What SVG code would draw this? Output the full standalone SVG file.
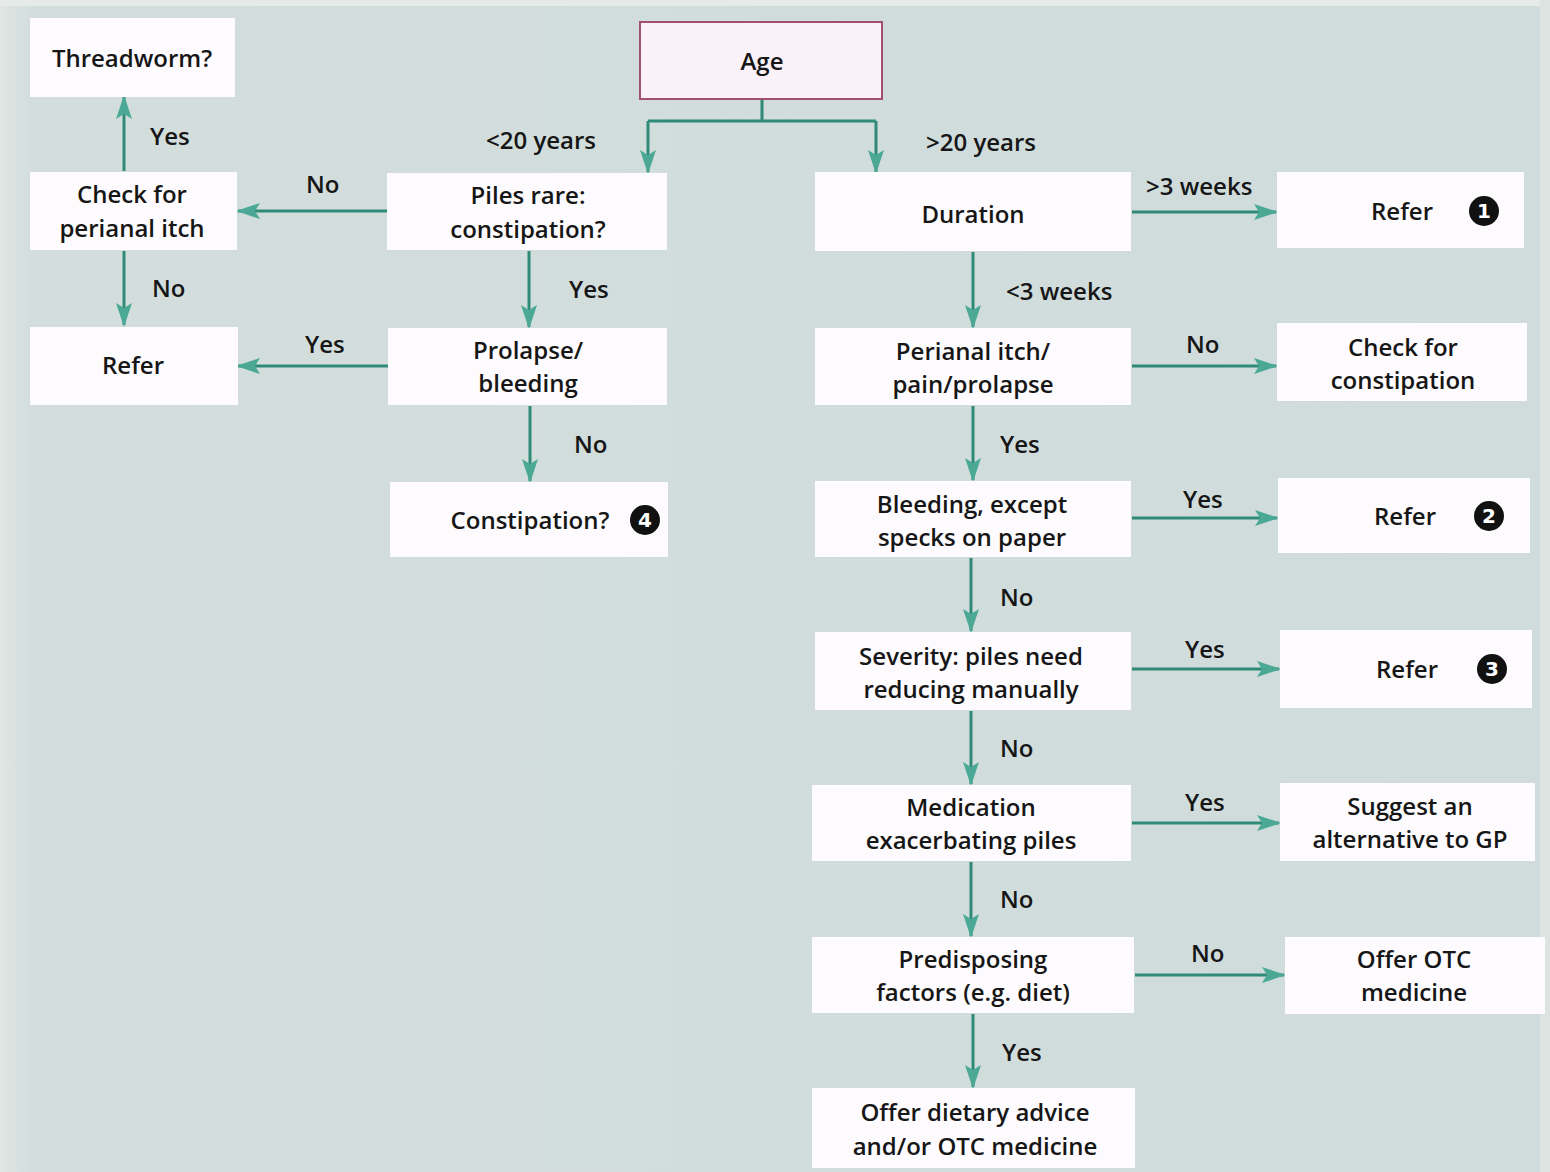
<svg xmlns="http://www.w3.org/2000/svg" width="1550" height="1172" viewBox="0 0 1550 1172">
<defs>
<linearGradient id="bg" x1="0" y1="0" x2="1" y2="0">
<stop offset="0" stop-color="#dfe6e4"/>
<stop offset="0.02" stop-color="#d3dedc"/>
<stop offset="1" stop-color="#cfdcdb"/>
</linearGradient>
<marker id="ah" markerUnits="userSpaceOnUse" markerWidth="24" markerHeight="20" viewBox="0 0 24 20" refX="22" refY="10" orient="auto">
<path d="M0,2 L24,10 L0,18 L5,10 Z" fill="#4aa894"/>
</marker>
<style>
.n{fill:#fdfbfd}
.t{font-family:"Open Sans","Noto Sans","DejaVu Sans",sans-serif;font-size:24px;font-weight:600;fill:#161616;text-anchor:middle}
.l{font-family:"Open Sans","Noto Sans","DejaVu Sans",sans-serif;font-size:24px;font-weight:600;fill:#161616}
.c{fill:none;stroke:#2f8a78;stroke-width:3}
.a{marker-end:url(#ah)}
.bd{fill:#111}
.bn{font-family:"DejaVu Sans",sans-serif;font-size:20px;font-weight:bold;fill:#fff;text-anchor:middle}
</style>
</defs>
<rect width="1550" height="1172" fill="url(#bg)"/>
<rect x="0" y="0" width="1550" height="6" fill="#e6ebe9"/>
<rect x="1540" y="0" width="10" height="1172" fill="#dde3e1"/>

<g id="connectors">
<path class="c" d="M762,99 V121 M648,121 H876"/>
<path class="c a" d="M648,121 V172"/>
<path class="c a" d="M876,121 V172"/>
<path class="c a" d="M387,211 H238"/>
<path class="c a" d="M124,171 V97"/>
<path class="c a" d="M124,251 V325"/>
<path class="c a" d="M529,251 V327"/>
<path class="c a" d="M388,366 H238"/>
<path class="c a" d="M530,406 V481"/>
<path class="c a" d="M1132,212 H1276"/>
<path class="c a" d="M973,252 V327"/>
<path class="c a" d="M1132,366 H1276"/>
<path class="c a" d="M973,406 V480"/>
<path class="c a" d="M1132,518 H1277"/>
<path class="c a" d="M971,558 V631"/>
<path class="c a" d="M1132,669 H1279"/>
<path class="c a" d="M971,711 V784"/>
<path class="c a" d="M1132,823 H1279"/>
<path class="c a" d="M971,862 V936"/>
<path class="c a" d="M1135,975 H1284"/>
<path class="c a" d="M973,1014 V1087"/>
<text class="l" x="486" y="149">&lt;20 years</text>
<text class="l" x="926" y="151">&gt;20 years</text>
<text class="l" x="306" y="193">No</text>
<text class="l" x="150" y="145">Yes</text>
<text class="l" x="152" y="297">No</text>
<text class="l" x="569" y="298">Yes</text>
<text class="l" x="305" y="353">Yes</text>
<text class="l" x="574" y="453">No</text>
<text class="l" x="1146" y="195">&gt;3 weeks</text>
<text class="l" x="1006" y="300">&lt;3 weeks</text>
<text class="l" x="1186" y="353">No</text>
<text class="l" x="1000" y="453">Yes</text>
<text class="l" x="1183" y="508">Yes</text>
<text class="l" x="1000" y="606">No</text>
<text class="l" x="1185" y="658">Yes</text>
<text class="l" x="1000" y="757">No</text>
<text class="l" x="1185" y="811">Yes</text>
<text class="l" x="1000" y="908">No</text>
<text class="l" x="1191" y="962">No</text>
<text class="l" x="1002" y="1061">Yes</text>
</g>

<g id="age">
<rect x="640" y="22" width="242" height="77" fill="#fbf1f8" stroke="#a3506e" stroke-width="2"/>
<text class="t" x="762" y="70">Age</text>
</g>
<g id="threadworm">
<rect class="n" x="30" y="18" width="205" height="79"/>
<text class="t" x="132" y="67">Threadworm?</text>
</g>
<g id="check-perianal">
<rect class="n" x="30" y="172" width="207" height="78"/>
<text class="t" x="132" y="203">Check for</text>
<text class="t" x="132" y="237">perianal itch</text>
</g>
<g id="refer-left">
<rect class="n" x="30" y="327" width="208" height="78"/>
<text class="t" x="133" y="374">Refer</text>
</g>
<g id="piles-rare">
<rect class="n" x="387" y="173" width="280" height="77"/>
<text class="t" x="528" y="204">Piles rare:</text>
<text class="t" x="528" y="238">constipation?</text>
</g>
<g id="prolapse">
<rect class="n" x="388" y="328" width="279" height="77"/>
<text class="t" x="528" y="359">Prolapse/</text>
<text class="t" x="528" y="392">bleeding</text>
</g>
<g id="constipation">
<rect class="n" x="390" y="482" width="278" height="75"/>
<text class="t" x="530" y="529">Constipation?</text>
<circle class="bd" cx="645" cy="520" r="15"/>
<text class="bn" x="645" y="527">4</text>
</g>
<g id="duration">
<rect class="n" x="815" y="172" width="316" height="79"/>
<text class="t" x="973" y="223">Duration</text>
</g>
<g id="perianal-itch">
<rect class="n" x="815" y="328" width="316" height="77"/>
<text class="t" x="973" y="360">Perianal itch/</text>
<text class="t" x="973" y="393">pain/prolapse</text>
</g>
<g id="bleeding">
<rect class="n" x="815" y="481" width="316" height="76"/>
<text class="t" x="972" y="513">Bleeding, except</text>
<text class="t" x="972" y="546">specks on paper</text>
</g>
<g id="severity">
<rect class="n" x="815" y="632" width="316" height="78"/>
<text class="t" x="971" y="665">Severity: piles need</text>
<text class="t" x="971" y="698">reducing manually</text>
</g>
<g id="medication">
<rect class="n" x="812" y="785" width="319" height="76"/>
<text class="t" x="971" y="816">Medication</text>
<text class="t" x="971" y="849">exacerbating piles</text>
</g>
<g id="predisposing">
<rect class="n" x="812" y="937" width="322" height="76"/>
<text class="t" x="973" y="968">Predisposing</text>
<text class="t" x="973" y="1001">factors (e.g. diet)</text>
</g>
<g id="offer-dietary">
<rect class="n" x="812" y="1088" width="323" height="80"/>
<text class="t" x="975" y="1121">Offer dietary advice</text>
<text class="t" x="975" y="1155">and/or OTC medicine</text>
</g>
<g id="refer-1">
<rect class="n" x="1277" y="172" width="247" height="76"/>
<text class="t" x="1402" y="220">Refer</text>
<circle class="bd" cx="1484" cy="211" r="15"/>
<text class="bn" x="1484" y="218">1</text>
</g>
<g id="check-constipation">
<rect class="n" x="1277" y="323" width="250" height="78"/>
<text class="t" x="1403" y="356">Check for</text>
<text class="t" x="1403" y="389">constipation</text>
</g>
<g id="refer-2">
<rect class="n" x="1278" y="478" width="252" height="75"/>
<text class="t" x="1405" y="525">Refer</text>
<circle class="bd" cx="1489" cy="516" r="15"/>
<text class="bn" x="1489" y="523">2</text>
</g>
<g id="refer-3">
<rect class="n" x="1280" y="630" width="252" height="78"/>
<text class="t" x="1407" y="678">Refer</text>
<circle class="bd" cx="1492" cy="669" r="15"/>
<text class="bn" x="1492" y="676">3</text>
</g>
<g id="suggest">
<rect class="n" x="1280" y="783" width="255" height="78"/>
<text class="t" x="1410" y="815">Suggest an</text>
<text class="t" x="1410" y="848">alternative to GP</text>
</g>
<g id="offer-otc">
<rect class="n" x="1285" y="937" width="260" height="77"/>
<text class="t" x="1414" y="968">Offer OTC</text>
<text class="t" x="1414" y="1001">medicine</text>
</g>
</svg>
